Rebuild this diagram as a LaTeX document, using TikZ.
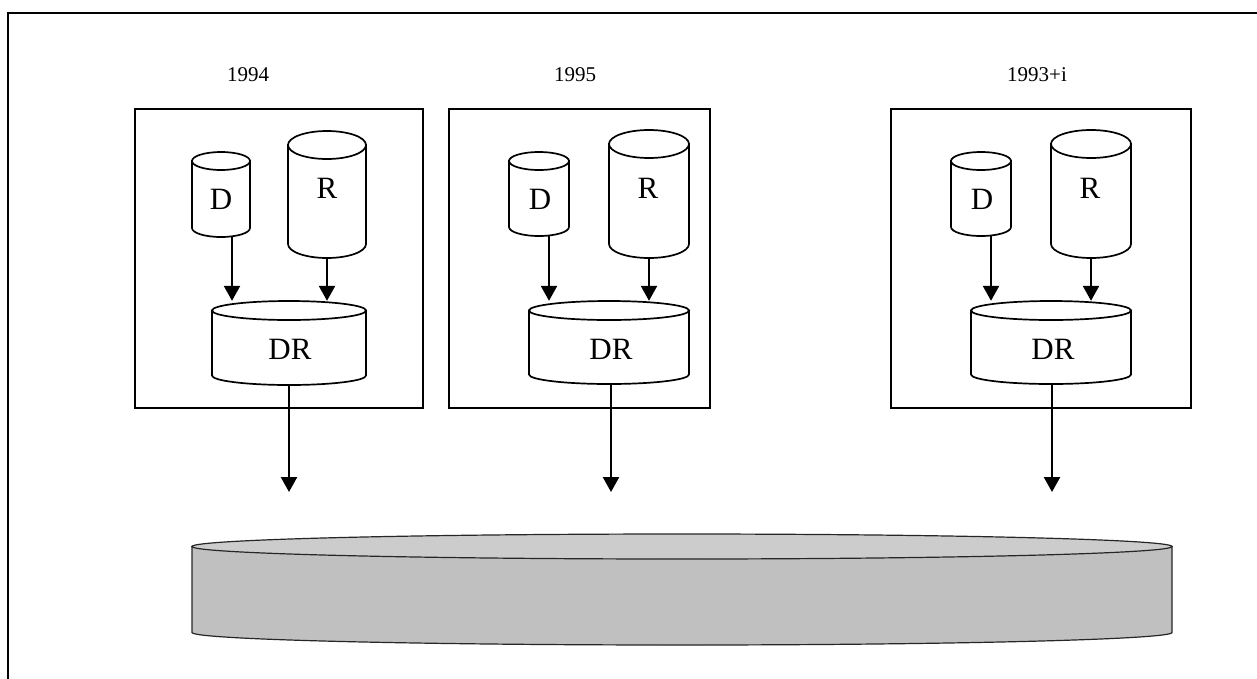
\documentclass[tikz,border=0pt]{standalone}
\usepackage{fontspec}
\setmainfont{Liberation Serif}
\usetikzlibrary{arrows.meta}
\tikzset{
  frameline/.style={line width=2pt, black},
  yearbox/.style={line width=2pt, black},
  cylline/.style={line width=1.7pt, black, fill=white},
  arr/.style={line width=2.4pt, -{Triangle[width=16pt,length=15pt]}},
  yearlbl/.style={anchor=base, inner sep=0pt, font=\fontsize{21}{24}\selectfont},
  cyllbl/.style={anchor=base, inner sep=0pt, font=\fontsize{31}{34}\selectfont},
}
% name, cx, ytop, ybottom, rx, ry
\newcommand\cylnd[6]{%
  \pgfmathsetmacro\cye{#3+#6}\pgfmathsetmacro\cyc{#4-#6}\pgfmathsetmacro\cym{(#3+#4)/2}%
  \draw[cylline] (#2-#5,\cye) -- (#2-#5,\cyc) arc[start angle=180,end angle=360,x radius=#5pt,y radius=#6pt] -- (#2+#5,\cye) -- cycle;
  \draw[cylline] (#2,\cye) ellipse[x radius=#5pt, y radius=#6pt];
  \node[inner sep=0pt, minimum width={2*#5*1pt}, minimum height={(#4-#3)*1pt}] (#1) at (#2,\cym) {};%
}
\begin{document}
\begin{tikzpicture}[x=1pt,y=-1pt]
\useasboundingbox (0,0) rectangle (1257,678);
\clip (0,0) rectangle (1257,678);
\fill[white] (0,0) rectangle (1257,678);
% outer frame (cut by the page)
\draw[frameline] (8.3,700) -- (8.3,13.3) -- (1280,13.3);

% year labels
\node[yearlbl] (y1) at (248,81) {1994};
\node[yearlbl] (y2) at (575,81) {1995};
\node[yearlbl] (y3) at (1037,81) {1993+i};

% boxes
\draw[yearbox] (135,109) rectangle (423,408);
\draw[yearbox] (449,109) rectangle (710,408);
\draw[yearbox] (891,109) rectangle (1191,408);

% box 1
\cylnd{d1}{221}{152}{237}{29}{9}
\cylnd{r1}{327}{131}{258}{39}{14}
\cylnd{dr1}{289}{301}{385}{77}{9.5}
\node[cyllbl] (d1t) at (221,209) {D};
\node[cyllbl] (r1t) at (327,198) {R};
\node[cyllbl] (dr1t) at (290,359) {DR};
% box 2
\cylnd{d2}{539}{152}{236}{30}{9}
\cylnd{r2}{649}{130}{258}{40}{14}
\cylnd{dr2}{609}{301}{384}{80}{9.5}
\node[cyllbl] (d2t) at (540,209) {D};
\node[cyllbl] (r2t) at (648,198) {R};
\node[cyllbl] (dr2t) at (611,359) {DR};
% box 3
\cylnd{d3}{981}{152}{236}{30}{9}
\cylnd{r3}{1091}{130}{258}{40}{14}
\cylnd{dr3}{1051}{301}{384}{80}{9.5}
\node[cyllbl] (d3t) at (982,209) {D};
\node[cyllbl] (r3t) at (1090,198) {R};
\node[cyllbl] (dr3t) at (1053,359) {DR};

% arrows into DR
\path ([xshift=11pt]d1.south) coordinate (a1);
\path ([xshift=10pt]d2.south) coordinate (a2);
\path ([xshift=10pt]d3.south) coordinate (a3);
\draw[arr] (a1) -- (a1 |- dr1.north);
\draw[arr] (r1.south) -- (r1.south |- dr1.north);
\draw[arr] (a2) -- (a2 |- dr2.north);
\draw[arr] (r2.south) -- (r2.south |- dr2.north);
\draw[arr] (a3) -- (a3 |- dr3.north);
\draw[arr] (r3.south) -- (r3.south |- dr3.north);

% big storage cylinder
\draw[line width=1.2pt, draw=black!85, fill={rgb,255:red,192;green,192;blue,192}]
  (192,546.5) -- (192,632.5) arc[start angle=180,end angle=360,x radius=490pt,y radius=12.5pt] -- (1172,546.5) -- cycle;
\draw[line width=1.2pt, draw=black!85, fill={rgb,255:red,204;green,204;blue,204}]
  (682,546.5) ellipse[x radius=490pt, y radius=12.5pt];
\node[inner sep=0pt, minimum width=980pt, minimum height=111pt] (store) at (682,589.5) {};

% arrows down towards the store
\coordinate (t1) at (dr1.south |- 0,492);
\coordinate (t2) at ([xshift=2pt]dr2.south |- 0,492);
\coordinate (t3) at ([xshift=1pt]dr3.south |- 0,492);
\draw[arr] (dr1.south) -- (t1);
\draw[arr] ([xshift=2pt]dr2.south) -- (t2);
\draw[arr] ([xshift=1pt]dr3.south) -- (t3);
\end{tikzpicture}
\end{document}
